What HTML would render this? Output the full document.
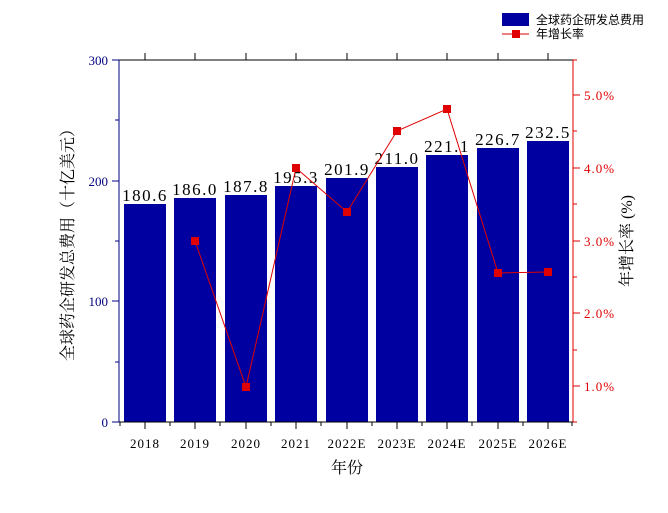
<!DOCTYPE html>
<html><head><meta charset="utf-8"><style>
body{margin:0;background:#fff;}
svg text{font-family:"Liberation Serif","Noto Serif CJK SC",serif;}
</style></head><body>
<svg width="668" height="508" xmlns="http://www.w3.org/2000/svg">
<g fill="#0000a0">
<rect x="124" y="204" width="42" height="218"/>
<rect x="174" y="198" width="42" height="224"/>
<rect x="225" y="195" width="42" height="227"/>
<rect x="275" y="186" width="42" height="236"/>
<rect x="326" y="178" width="42" height="244"/>
<rect x="376" y="167" width="42" height="255"/>
<rect x="426" y="155" width="42" height="267"/>
<rect x="477" y="148" width="42" height="274"/>
<rect x="527" y="141" width="42" height="281"/>
</g>
<line x1="119" y1="60" x2="573" y2="60" stroke="#000"/>
<line x1="119" y1="422" x2="573" y2="422" stroke="#000"/>
<line x1="119" y1="60" x2="119" y2="422" stroke="#000080"/>
<line x1="573" y1="60" x2="573" y2="422" stroke="#e00000"/>
<g stroke="#000080">
<line x1="112" y1="60" x2="119" y2="60"/><line x1="112" y1="181" x2="119" y2="181"/><line x1="112" y1="301" x2="119" y2="301"/><line x1="112" y1="422" x2="119" y2="422"/>
<line x1="115" y1="120" x2="119" y2="120"/><line x1="115" y1="241" x2="119" y2="241"/><line x1="115" y1="362" x2="119" y2="362"/>
</g>
<g stroke="#e00000">
<line x1="573" y1="95" x2="580" y2="95"/><line x1="573" y1="168" x2="580" y2="168"/><line x1="573" y1="241" x2="580" y2="241"/><line x1="573" y1="313" x2="580" y2="313"/><line x1="573" y1="386" x2="580" y2="386"/>
<line x1="573" y1="131" x2="577" y2="131"/><line x1="573" y1="204" x2="577" y2="204"/><line x1="573" y1="277" x2="577" y2="277"/><line x1="573" y1="350" x2="577" y2="350"/><line x1="573" y1="422" x2="577" y2="422"/><line x1="573" y1="60" x2="577" y2="60"/>
</g>
<g stroke="#000">
<path d="M145 422v7M195 422v7M246 422v7M296 422v7M347 422v7M397 422v7M447 422v7M498 422v7M548 422v7"/>
<path d="M120 422v4M170 422v4M220 422v4M271 422v4M321 422v4M372 422v4M422 422v4M472 422v4M523 422v4M572 422v4"/>
<path d="M145 60v-7M195 60v-7M246 60v-7M296 60v-7M347 60v-7M397 60v-7M447 60v-7M498 60v-7M548 60v-7"/>
</g>
<g font-size="13" fill="#000080" text-anchor="end">
<text x="108" y="65">300</text><text x="108" y="186">200</text><text x="108" y="306">100</text><text x="108" y="427">0</text>
</g>
<g font-size="13" fill="#e00000" letter-spacing="1">
<text x="584" y="100">5.0%</text><text x="584" y="173">4.0%</text><text x="584" y="246">3.0%</text><text x="584" y="318">2.0%</text><text x="584" y="391">1.0%</text>
</g>
<g font-size="13" fill="#000" text-anchor="middle" letter-spacing="1">
<text x="145" y="448">2018</text><text x="195" y="448">2019</text><text x="246" y="448">2020</text><text x="296" y="448">2021</text><text x="347" y="448">2022E</text><text x="397" y="448">2023E</text><text x="447" y="448">2024E</text><text x="498" y="448">2025E</text><text x="548" y="448">2026E</text>
</g>
<g font-size="17" fill="#000" text-anchor="middle" letter-spacing="1.5">
<text x="145" y="201">180.6</text><text x="195" y="195">186.0</text><text x="246" y="192">187.8</text><text x="296" y="183">195.3</text><text x="347" y="175">201.9</text><text x="397" y="164">211.0</text><text x="447" y="152">221.1</text><text x="498" y="145">226.7</text><text x="548" y="138">232.5</text>
</g>
<text x="347" y="473" font-size="16" text-anchor="middle">年份</text>
<text transform="translate(73 241) rotate(-90)" font-size="16" text-anchor="middle">全球药企研发总费用（十亿美元）</text>
<text transform="translate(632 241) rotate(-90)" font-size="16" text-anchor="middle">年增长率 (%)</text>
<polyline fill="none" stroke="#e00000" stroke-width="1" points="195,241 246,387 296,168 347,212 397,131 447,109 498,273 548,272"/>
<g fill="#e00000">
<rect x="191" y="237" width="8" height="8"/><rect x="242" y="383" width="8" height="8"/><rect x="292" y="164" width="8" height="8"/><rect x="343" y="208" width="8" height="8"/><rect x="393" y="127" width="8" height="8"/><rect x="443" y="105" width="8" height="8"/><rect x="494" y="269" width="8" height="8"/><rect x="544" y="268" width="8" height="8"/>
</g>
<rect x="502" y="13" width="27" height="13" fill="#0000a0"/>
<line x1="502" y1="34" x2="529" y2="34" stroke="#e00000"/>
<rect x="512" y="30" width="8" height="8" fill="#e00000"/>
<g font-size="12" fill="#000">
<text x="536" y="24" style="font-family:'Liberation Sans','Noto Sans CJK SC',sans-serif">全球药企研发总费用</text>
<text x="536" y="38" style="font-family:'Liberation Sans','Noto Sans CJK SC',sans-serif">年增长率</text>
</g>
</svg>
</body></html>
